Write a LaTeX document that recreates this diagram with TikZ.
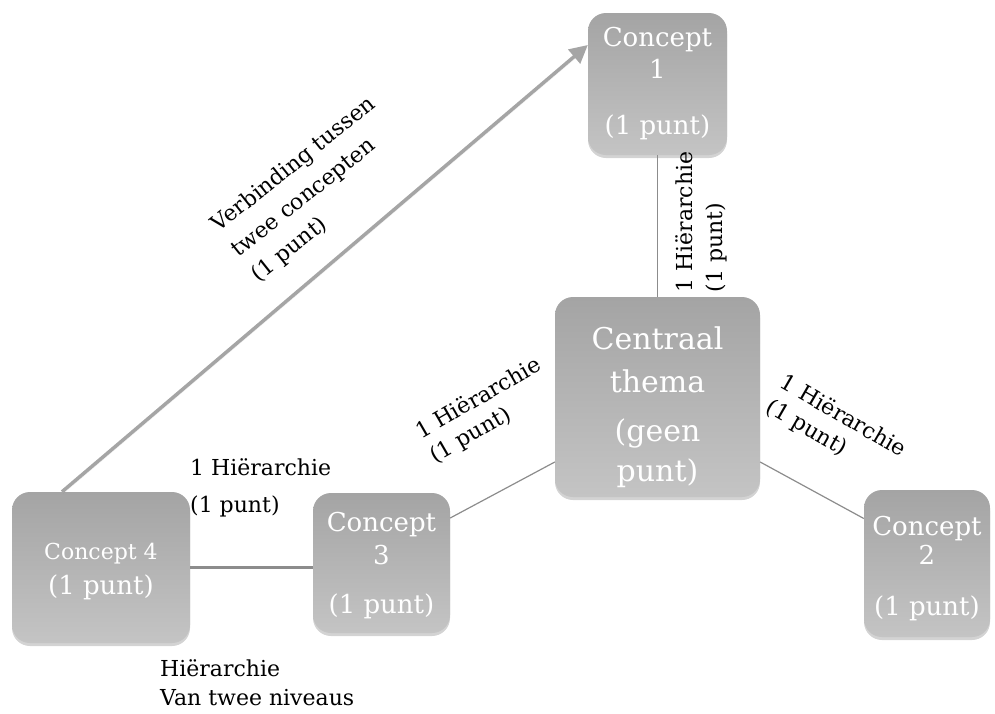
\documentclass[tikz,border=0pt]{standalone}
\usepackage{fontspec}
\setmainfont{DejaVu Serif}
\usetikzlibrary{calc,shadows,arrows.meta}
\definecolor{boxtop}{RGB}{164,164,164}
\definecolor{boxbot}{RGB}{196,196,196}
\definecolor{linegray}{RGB}{140,140,140}
\definecolor{arrowgray}{RGB}{165,165,165}
\tikzset{
  cbox/.style={rectangle, rounded corners=18pt, top color=boxtop, bottom color=boxbot,
    draw=none, text=white, align=center, inner sep=0pt,
    drop shadow={opacity=0.35, shadow xshift=0pt, shadow yshift=-3pt}},
  conn/.style={draw=linegray, line width=1.2pt},
  lbl/.style={text=black, align=left, inner sep=0pt, font=\fontsize{22}{30}\selectfont},
  big/.style={font=\fontsize{26}{34}\selectfont},
}
\begin{document}
\begin{tikzpicture}[x=1pt,y=-1pt]
\useasboundingbox (0,0) rectangle (995,713);
% boxes
\node[cbox, big, minimum width=139pt, minimum height=142pt] (c1) at (657.5,84)
  {Concept\\[-2pt]1\\[22pt](1 punt)};
\node[cbox, font=\fontsize{30}{40}\selectfont, minimum width=205pt, minimum height=200pt] (ct) at (657.5,397)
  {\rule{0pt}{44pt}Centraal\\[3pt]thema\\[9pt](geen\\[0pt]punt)};
\node[cbox, big, minimum width=126pt, minimum height=147pt] (c2) at (927,563.5)
  {\rule{0pt}{29pt}Concept\\[-5pt]2\\[17pt](1 punt)};
\node[cbox, big, minimum width=137pt, minimum height=140pt] (c3) at (381.5,563)
  {\rule{0pt}{25pt}Concept\\[-1pt]3\\[15pt](1 punt)};
\node[cbox, minimum width=178pt, minimum height=151pt] (c4) at (101,567.5)
  {\fontsize{22}{30}\selectfont\rule{0pt}{24pt}Concept 4\\[10pt]\fontsize{26}{30}\selectfont(1 punt)};
% connectors
\draw[conn] (c1.south) -- (ct.north);
\draw[conn] ($(ct.west)+(0,65)$) -- ($(c3.east)+(0,-45)$);
\draw[conn] ($(ct.east)+(0,65)$) -- ($(c2.west)+(0,-45)$);
\draw[draw=linegray, line width=3.5pt] (c4.east) -- (c4.east -| c3.west);
\coordinate (a0) at ($(c4.north)+(-39,0)$);
\coordinate (a1) at ($(c1.west)+(0,-39)$);
\draw[draw=arrowgray, line width=3.5pt, -{Triangle[length=18pt,width=18pt]},
  drop shadow={opacity=0.3, shadow xshift=1pt, shadow yshift=-2pt}] (a0) -- (a1);
% labels
\node[lbl, rotate=90] (l1) at (701,222) {1 Hiërarchie\\(1 punt)};
\node[lbl, rotate=30, font=\fontsize{22}{28}\selectfont] (l3) at (486,411) {1 Hiërarchie\\(1 punt)};
\node[lbl, rotate=-30, font=\fontsize{22}{28}\selectfont] (l2) at (836,429) {1 Hiërarchie\\(1 punt)};
\node[lbl, rotate=38.5, font=\fontsize{22}{32}\selectfont] (lv) at (314,190) {Verbinding tussen\\twee concepten\\(1 punt)};
\node[lbl, anchor=north west, font=\fontsize{22}{37}\selectfont] (l4) at (190,458) {1 Hiërarchie\\(1 punt)};
\node[lbl, anchor=north west, font=\fontsize{22}{29}\selectfont] (lb) at (160,659) {Hiërarchie\\Van twee niveaus};
\end{tikzpicture}
\end{document}
